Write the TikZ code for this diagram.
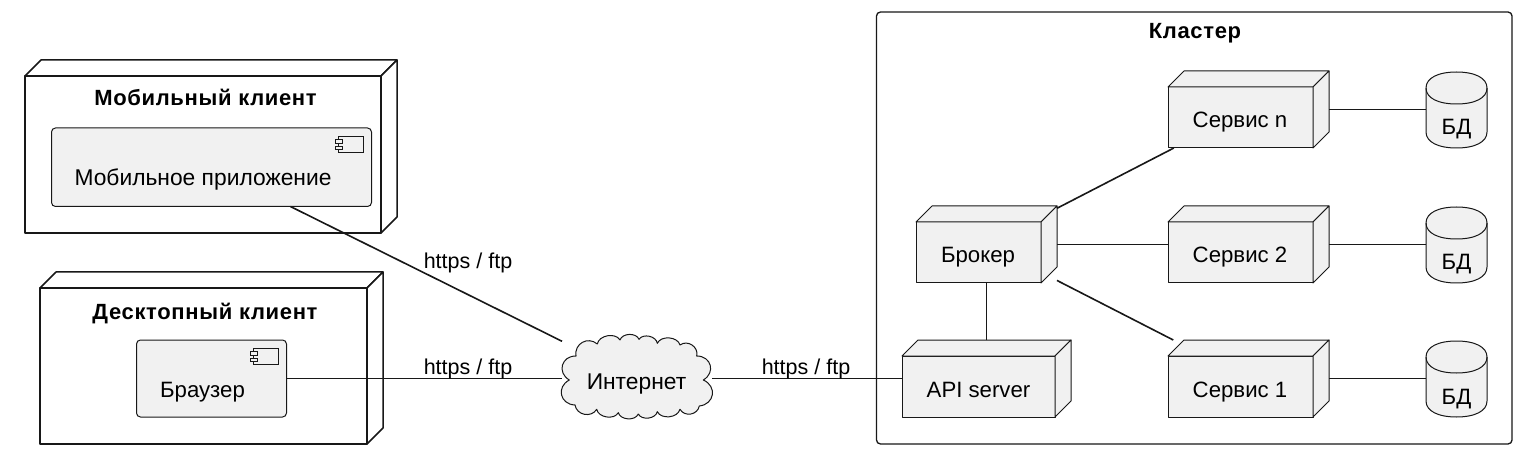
\documentclass[tikz,border=0pt]{standalone}
\usepackage{fontspec}
\setmainfont{Liberation Sans}
\definecolor{nodefill}{HTML}{F1F1F1}
\definecolor{ink}{HTML}{181818}
\newcommand{\bodyfont}{\fontsize{22.2}{26}\selectfont}
\newcommand{\widefont}{\fontsize{22.8}{26}\selectfont}
\newcommand{\linkfont}{\fontsize{21.5}{26}\selectfont}
\newcommand{\titlefont}{\fontsize{22}{26}\selectfont\bfseries\addfontfeature{LetterSpace=3}}
\tikzset{
  every node/.style={inner sep=0pt,outer sep=0pt,text=black},
  hull/.style={minimum width=0pt,minimum height=0pt,draw=none,fill=none},
  inner part/.style={draw=ink,line width=1pt,fill=nodefill,line join=round},
  outer part/.style={draw=ink,line width=1.5pt,fill=white,line join=round},
  link/.style={draw=ink,line width=1.6pt},
  caption/.style={anchor=base,font=\bodyfont,yshift=-1pt},
  widecaption/.style={anchor=base,font=\widefont,yshift=-1pt},
  linkcaption/.style={anchor=base,font=\linkfont,yshift=-1pt},
  heading/.style={anchor=base,font=\titlefont,yshift=-1pt},
  bump/.style={bend left=70},
  bigbump/.style={bend left=75,looseness=1.5},
}
% name, x1, ytop(back), x2(front right), y1(front top), y2(bottom), style
\newcommand{\solid}[7]{%
  \path[#7] (#2,#5) rectangle (#4,#6);
  \path[#7] (#2,#5) -- (#2+16,#3) -- (#4+16,#3) -- (#4,#5) -- cycle;
  \path[#7] (#4,#5) -- (#4+16,#3) -- (#4+16,#6-16) -- (#4,#6) -- cycle;
  \node[hull,fit to box={#1}{#2}{#3}{#4+16}{#6}] {};
}
\tikzset{fit to box/.code n args={5}{%
  \pgfmathsetmacro\bw{(#4)-(#2)}\pgfmathsetmacro\bh{(#5)-(#3)}%
  \tikzset{name=#1,rectangle,minimum width=\bw pt,minimum height=\bh pt,
    at={({((#2)+(#4))/2},{((#3)+(#5))/2})}}}}
% name, x1, y1, x2, y2
\newcommand{\compo}[5]{%
  \path[inner part,rounded corners=4pt] (#2,#3) rectangle (#4,#5);
  \node[hull,fit to box={#1}{#2}{#3}{#4}{#5}] {};
  \path[draw=ink,line width=.8pt,fill=nodefill] (#4-33,#3+8) rectangle (#4-8,#3+24.5);
  \path[draw=ink,line width=.8pt,fill=nodefill] (#4-36,#3+11.5) rectangle (#4-29,#3+15);
  \path[draw=ink,line width=.8pt,fill=nodefill] (#4-36,#3+18) rectangle (#4-29,#3+21.5);
}
% name, x1, y1, x2, y2
\newcommand{\dbase}[5]{%
  \path[inner part] (#2,#3+16) .. controls (#2,#3+6) and (#2+12,#3) .. ({(#2+#4)/2},#3)
     .. controls (#4-12,#3) and (#4,#3+6) .. (#4,#3+16)
     -- (#4,#5-16) .. controls (#4,#5-6) and (#4-12,#5) .. ({(#2+#4)/2},#5)
     .. controls (#2+12,#5) and (#2,#5-6) .. (#2,#5-16) -- cycle;
  \path[draw=ink,line width=1pt] (#2,#3+16) .. controls (#2,#3+26) and (#2+12,#3+32) .. ({(#2+#4)/2},#3+32)
     .. controls (#4-12,#3+32) and (#4,#3+26) .. (#4,#3+16);
  \node[hull,fit to box={#1}{#2}{#5-77}{#4}{#5}] {};
  \node[caption] (#1-t) at ({(#2+#4)/2},#5-14) {БД};
}
\begin{document}
\begin{tikzpicture}[x=1pt,y=-1pt]
\useasboundingbox (0,0) rectangle (1520,470);
\fill[white] (0,0) rectangle (1520,470);
% cluster
\path[draw=ink,line width=1.3pt,fill=white,rounded corners=4pt] (876.5,12) rectangle (1512,444);
\node[hull,fit to box={cluster}{876.5}{12}{1512}{444}] {};
\node[heading] (clustertitle) at (1195,38) {Кластер};
% clients
\solid{mobile}{25}{60}{381}{76}{233}{outer part}
\node[heading] (mobiletitle) at (205.5,105) {Мобильный клиент};
\compo{mobileapp}{51.5}{128}{371.5}{206.5}
\node[widecaption] (mobileapptext) at (203,185) {Мобильное приложение};
\solid{desktop}{40}{272}{367}{288}{444}{outer part}
\node[heading] (desktoptitle) at (205,318) {Десктопный клиент};
\compo{browser}{136.5}{340}{286.5}{417}
\node[caption] (browsertext) at (202.5,396) {Браузер};
% cloud
\path[inner part] (569.3,380)
  to[bigbump] (576,356)
  to[bump,looseness=1.3] (597.3,344)
  to[bump] (620,340)
  to[bump] (639,339.3)
  to[bump] (657.3,343.3)
  to[bump] (680,345)
  to[bump,looseness=1.2] (696.7,356)
  to[bigbump] (703.3,380)
  to[bigbump] (699.3,406)
  to[bump,looseness=1.2] (680,409.3)
  to[bump] (657.3,411.7)
  to[bump] (638.3,414)
  to[bump] (618.3,412.7)
  to[bump] (596.7,409.3)
  to[bump,looseness=1.2] (575,405)
  to[bigbump] cycle;
\node[hull,fit to box={net}{562}{336}{712}{421}] {};
\node[widecaption] (nettext) at (636.5,388) {Интернет};
% cluster contents
\solid{broker}{916}{206}{1041}{222}{283}{inner part}
\node[caption] (brokertext) at (978,262) {Брокер};
\solid{api}{902}{340}{1055}{356}{417}{inner part}
\node[caption] (apitext) at (978.5,396) {API server};
\solid{srvn}{1168}{71}{1313}{87}{148}{inner part}
\node[caption] (srvntext) at (1240,127) {Сервис n};
\solid{srvb}{1168}{206}{1313}{222}{283}{inner part}
\node[caption] (srvbtext) at (1240,262) {Сервис 2};
\solid{srva}{1168}{340}{1313}{356}{417}{inner part}
\node[caption] (srvatext) at (1240,396) {Сервис 1};
\dbase{dbn}{1426}{72}{1487}{148}
\dbase{dbb}{1426}{207}{1487}{283}
\dbase{dba}{1426}{341}{1487}{417}
% connectors
\draw[link] (mobileapp) -- (net);
\draw[link] (browser) -- (net);
\draw[link] (net) -- (api);
\draw[link] (api) -- (broker);
\draw[link] (broker) -- (srvn);
\draw[link] (broker) -- (srvb);
\draw[link] (broker) -- (srva);
\draw[link] (srvn) -- (dbn);
\draw[link] (srvb) -- (dbb);
\draw[link] (srva) -- (dba);
% connector labels
\node[linkcaption] (lab1) at (468,268) {https / ftp};
\node[linkcaption] (lab2) at (468,373) {https / ftp};
\node[linkcaption] (lab3) at (806,373) {https / ftp};
\end{tikzpicture}
\end{document}
